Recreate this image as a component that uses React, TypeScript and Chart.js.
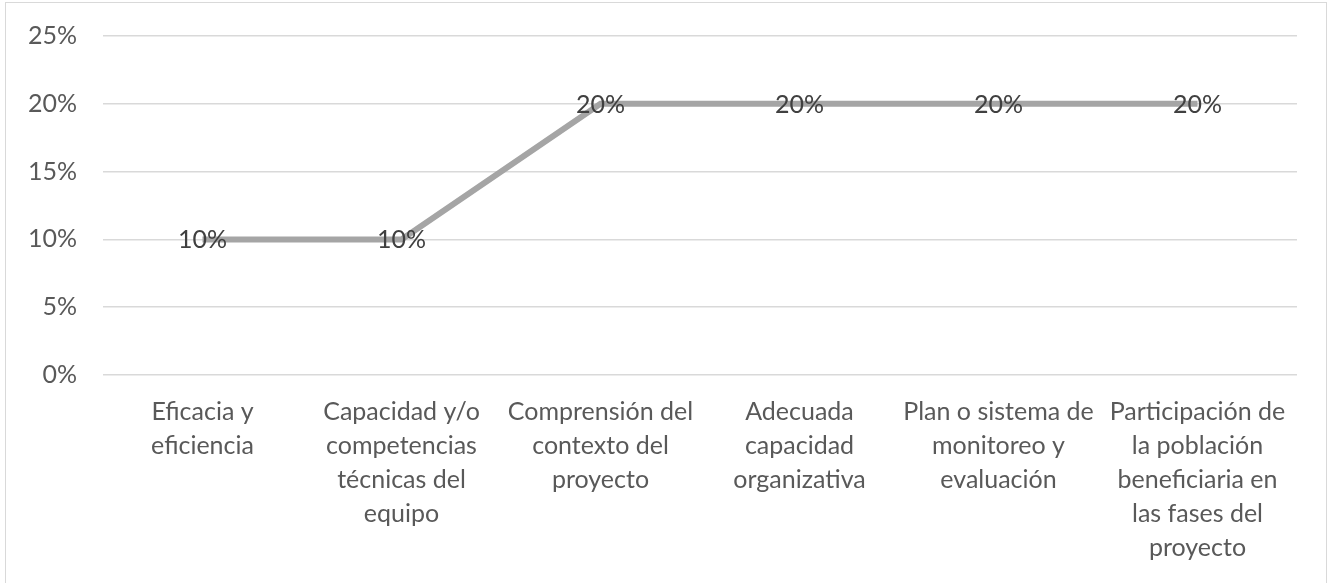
import React, { useEffect, useRef } from "react";
import { Chart, registerables } from "chart.js";

Chart.register(...registerables);

const categories: string[][] = [
  ["Eficacia y", "eficiencia"],
  ["Capacidad y/o", "competencias", "técnicas del", "equipo"],
  ["Comprensión del", "contexto del", "proyecto"],
  ["Adecuada", "capacidad", "organizativa"],
  ["Plan o sistema de", "monitoreo y", "evaluación"],
  ["Participación de", "la población", "beneficiaria en", "las fases del", "proyecto"],
];
const values: number[] = [10, 10, 20, 20, 20, 20];
const yTicks: number[] = [0, 5, 10, 15, 20, 25];

const FONT = "Lato, 'Noto Sans', sans-serif";

const labelPlugin = {
  id: "pointLabels",
  afterDatasetsDraw(chart: any) {
    const ctx = chart.ctx;
    const meta = chart.getDatasetMeta(0);
    ctx.save();
    ctx.font = `25px ${FONT}`;
    ctx.fillStyle = "#404040";
    ctx.textAlign = "center";
    ctx.textBaseline = "middle";
    meta.data.forEach((pt: any, i: number) => {
      ctx.fillText(values[i] + "%", pt.x, pt.y + 1);
    });
    ctx.restore();
  },
};

export default function App() {
  const ref = useRef<HTMLCanvasElement | null>(null);
  useEffect(() => {
    if (!ref.current) return;
    const chart = new Chart(ref.current, {
      type: "line",
      data: {
        labels: categories,
        datasets: [
          {
            data: values,
            borderColor: "#A5A5A5",
            borderWidth: 6,
            pointRadius: 0,
            tension: 0,
            fill: false,
          },
        ],
      },
      options: {
        animation: false,
        responsive: false,
        maintainAspectRatio: false,
        layout: { padding: { top: 25, right: 33, left: 0, bottom: 0 } },
        plugins: { legend: { display: false }, tooltip: { enabled: false } },
        scales: {
          x: {
            offset: true,
            grid: { display: false, drawTicks: false },
            border: { display: false },
            ticks: {
              color: "#595959",
              font: { family: FONT, size: 25, lineHeight: 1.36 },
              padding: 20,
              maxRotation: 0,
              autoSkip: false,
            },
            afterFit: (s: any) => {
              s.height = 208;
            },
          },
          y: {
            min: 0,
            max: 25,
            afterBuildTicks: (s: any) => {
              s.ticks = yTicks.map((v) => ({ value: v }));
            },
            grid: { color: "#D9D9D9", lineWidth: 1.5, drawTicks: false },
            border: { display: false },
            ticks: {
              color: "#595959",
              font: { family: FONT, size: 25, lineHeight: 0.8 },
              padding: 26,
              callback: (v: any) => v + "%",
            },
            afterFit: (s: any) => {
              s.width = 103;
            },
          },
        },
      },
      plugins: [labelPlugin],
    });
    return () => chart.destroy();
  }, []);
  return (
    <div
      style={{
        position: "fixed",
        left: 0,
        top: 0,
        width: 1330,
        height: 583,
        overflow: "hidden",
        background: "#fff",
      }}
    >
      <div
        style={{
          position: "absolute",
          left: 5,
          top: 2,
          width: 1320,
          height: 700,
          border: "1.5px solid #D9D9D9",
        }}
      />
      <canvas
        ref={ref}
        width={1330}
        height={583}
        style={{ position: "absolute", left: 0, top: 0, width: 1330, height: 583 }}
      />
    </div>
  );
}
